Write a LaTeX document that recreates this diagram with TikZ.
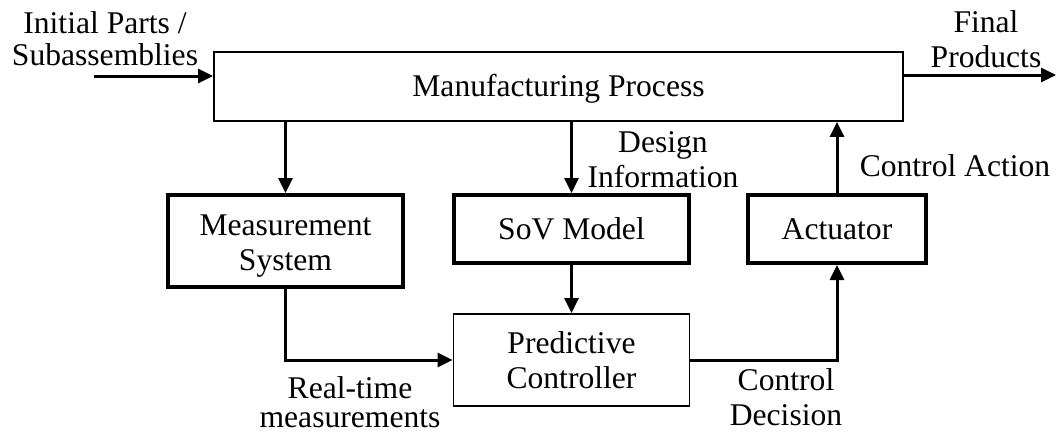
\documentclass[tikz,border=0pt]{standalone}
\usepackage{fontspec}
\setmainfont{Liberation Serif}
\usetikzlibrary{arrows.meta}
\begin{document}
\begin{tikzpicture}[x=1pt, y=-1pt,
  every node/.style={font=\fontsize{31.6}{35}\selectfont, inner sep=0pt},
  thinbox/.style={draw, line width=1.8pt, align=center},
  thickbox/.style={draw, line width=4pt, align=center},
  conn/.style={line width=3pt, -{Triangle[width=14pt,length=15pt]}},
  lbl/.style={align=center, anchor=north}]
\useasboundingbox (0,0) rectangle (1057,436);

% blocks
\node[thinbox, minimum width=689pt, minimum height=69pt] (mp) at (558.5,86.5)
  {\rule[-7pt]{0pt}{34pt}Manufacturing Process};
\node[thickbox, minimum width=235pt, minimum height=92pt] (ms) at (285.5,241)
  {\rule{0pt}{30pt}Measurement\\System};
\node[thickbox, minimum width=235pt, minimum height=68pt] (sov) at (571.5,229)
  {\rule[-7pt]{0pt}{35pt}SoV Model};
\node[thickbox, minimum width=178pt, minimum height=68pt] (act) at (837,229)
  {\rule[-7pt]{0pt}{35pt}Actuator};
\node[thinbox, minimum width=236pt, minimum height=92pt] (pc) at (571.5,360)
  {Predictive\\Controller};

% free ends of the process line
\coordinate (inS) at (94,76);
\coordinate (outE) at (1056,75);

% connectors
\draw[conn] (inS) -- (inS -| mp.west);
\draw[conn] (mp.east |- outE) -- (outE);
\draw[conn] (mp.south -| ms.north) -- (ms.north);
\draw[conn] (mp.south -| sov.north) -- (sov.north);
\draw[conn] (act.north) -- (act.north |- mp.south);
\draw[conn] (sov.south) -- (pc.north);
\draw[conn] (ms.south) |- (pc.west);
\draw[conn] (pc.east) -| (act.south);

% labels
\node[lbl, font=\fontsize{31.6}{32}\selectfont] (inlbl) at (105,8)
  {\rule{0pt}{25pt}Initial Parts /\\Subassemblies};
\node[lbl] (outlbl) at (986,7) {\rule{0pt}{25pt}Final\\Products};
\node[lbl] (dilbl) at (663,127) {\rule{0pt}{25pt}Design\\Information};
\node[lbl] (calbl) at (955,151) {\rule{0pt}{25pt}Control Action};
\node[lbl, font=\fontsize{31.6}{29}\selectfont] (rtlbl) at (350,373)
  {\rule{0pt}{25pt}Real-time\\measurements};
\node[lbl] (cdlbl) at (786,365) {\rule{0pt}{25pt}Control\\Decision};
\end{tikzpicture}
\end{document}
